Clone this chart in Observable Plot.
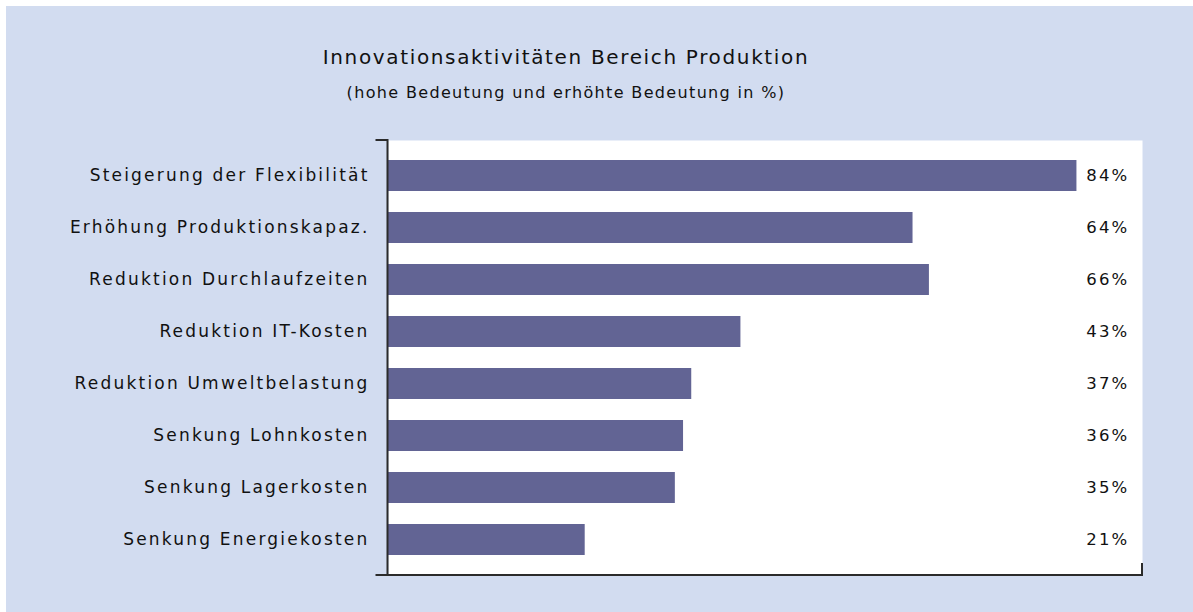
<!DOCTYPE html>
<html>
<head>
<meta charset="utf-8">
<script src="https://cdn.jsdelivr.net/npm/d3@7"></script>
<script src="https://cdn.jsdelivr.net/npm/@observablehq/plot@0.6"></script>
<style>
  html, body { margin: 0; padding: 0; background: #ffffff; }
  #page { position: relative; width: 1193px; height: 612px; overflow: hidden; }
  #panel { position: absolute; left: 6px; top: 6px; width: 1187px; height: 606px; background: #d2dcf0; }
  .title { position: absolute; left: 0; width: 1132px; text-align: center; color: #111;
           font-family: "DejaVu Sans", sans-serif; white-space: nowrap; }
  #t1 { top: 45px; font-size: 20px; line-height: 24px; letter-spacing: 1.65px; }
  #t2 { top: 83px; font-size: 16px; line-height: 20px; letter-spacing: 1.35px; }
  #chart { position: absolute; left: 0; top: 120px; }
</style>
</head>
<body>
<div id="page">
  <div id="panel"></div>
  <div class="title" id="t1">Innovationsaktivitäten Bereich Produktion</div>
  <div class="title" id="t2">(hohe Bedeutung und erhöhte Bedeutung in %)</div>
  <div id="chart"></div>
</div>
<script>
// Categories (top to bottom)
const categories = [
  "Steigerung der Flexibilität",
  "Erhöhung Produktionskapaz.",
  "Reduktion Durchlaufzeiten",
  "Reduktion IT-Kosten",
  "Reduktion Umweltbelastung",
  "Senkung Lohnkosten",
  "Senkung Lagerkosten",
  "Senkung Energiekosten"
];
// Bar lengths as drawn in the picture (percent)
const values = [84, 64, 66, 43, 37, 36, 35, 24];
// Value labels as printed
const valueLabels = ["84%", "64%", "66%", "43%", "37%", "36%", "35%", "21%"];

const data = categories.map((c, i) => ({cat: c, value: values[i], label: valueLabels[i]}));

const axisLines = (index, scales, values, dim) => {
  const g = d3.create("svg:g").attr("stroke", "#2b2b2b").attr("stroke-width", 2).attr("fill", "none");
  const left = dim.marginLeft - 0.5;
  const right = dim.width - dim.marginRight;
  const top = dim.marginTop;
  const bottom = dim.height - dim.marginBottom;
  g.append("path").attr("d", `M${left - 12},${top}H${left}V${bottom}`);
  g.append("path").attr("d", `M${left - 12},${bottom}H${right}V${bottom - 12}`);
  return g.node();
};

const chart = Plot.plot({
  width: 1193,
  height: 492,
  marginTop: 20,
  marginBottom: 37,
  marginLeft: 388,
  marginRight: 51,
  style: {background: "transparent", fontFamily: "'DejaVu Sans', sans-serif", fontSize: "17px", letterSpacing: "2.2px", color: "#111"},
  x: {domain: [0, 92], axis: null},
  y: {domain: categories, paddingInner: 0.41, paddingOuter: 0.34, label: null, tickSize: 0, tickPadding: 19},
  marks: [
    Plot.frame({fill: "white", stroke: null}),
    Plot.barX(data, {x: "value", y: "cat", fill: "#626494"}),
    Plot.text(data, {y: "cat", text: "label", frameAnchor: "right", textAnchor: "end", dx: -13, fill: "#111", fontSize: 16.5}),
    Plot.axisY({tickSize: 0, tickPadding: 19, label: null, fontSize: 17}),
    axisLines
  ]
});
document.getElementById("chart").appendChild(chart);
</script>
</body>
</html>
